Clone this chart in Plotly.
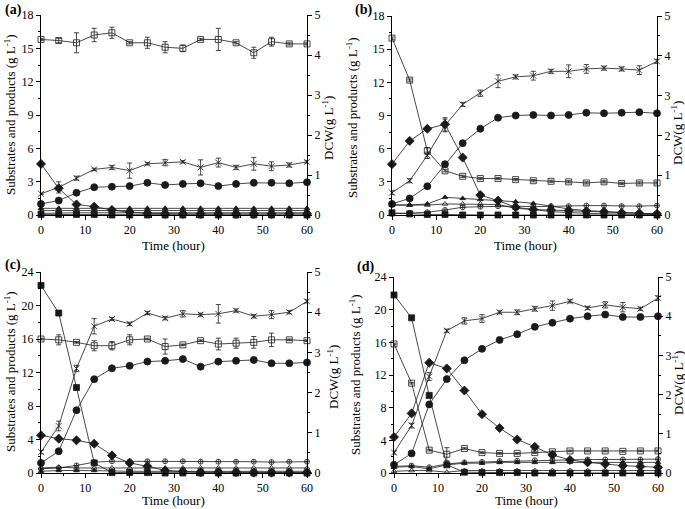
import plotly.graph_objects as go

FONT = 'Liberation Serif, Times New Roman, DejaVu Serif, serif'
W, H = 685, 509

T = [0, 4, 8, 12, 16, 20, 24, 28, 32, 36, 40, 44, 48, 52, 56, 60]

# ── (a) ───────────────────────────────────────────
A_GLC = [0.05, 0.05, 0.05, 0.05, 0.0, 0.0, 0.0, 0.0, 0.0, 0.0, 0.0, 0.0, 0.0, 0.0, 0.0, 0.0]
A_XYL = [15.8, 15.7, 15.5, 16.2, 16.4, 15.5, 15.5, 15.1, 15.0, 15.8, 15.8, 15.5, 14.6, 15.6, 15.4, 15.4]
A_XYL_ERR = [0.1, 0.2, 0.9, 0.6, 0.5, 0.1, 0.5, 0.5, 0.3, 0.1, 1.0, 0.1, 0.5, 0.4, 0.1, 0.1]
A_DIA = [4.6, 2.4, 0.95, 0.75, 0.45, 0.25, 0.15, 0.1, 0.1, 0.1, 0.1, 0.1, 0.1, 0.1, 0.1, 0.1]
A_CIR = [1.0, 1.3, 2.0, 2.5, 2.55, 2.6, 2.9, 2.7, 2.8, 2.85, 2.6, 2.8, 2.9, 2.9, 2.85, 2.95]
A_DCW = [0.53, 0.69, 0.92, 1.14, 1.19, 1.11, 1.28, 1.31, 1.33, 1.19, 1.31, 1.19, 1.28, 1.22, 1.25, 1.33]
A_DCW_ERR = [0.02, 0.14, 0.05, 0.03, 0.05, 0.19, 0.03, 0.08, 0.03, 0.19, 0.11, 0.05, 0.16, 0.11, 0.05, 0.03]
A_TRI_F = [0.6, 0.6, 0.6, 0.6, 0.6, 0.6, 0.6, 0.6, 0.6, 0.6, 0.6, 0.6, 0.6, 0.6, 0.6, 0.6]
A_TRI_O = [0.4, 0.4, 0.4, 0.4, 0.4, 0.4, 0.4, 0.4, 0.4, 0.4, 0.4, 0.4, 0.4, 0.4, 0.4, 0.4]
A_CPLUS = [0.15, 0.2, 0.2, 0.2, 0.2, 0.2, 0.2, 0.2, 0.2, 0.2, 0.2, 0.2, 0.2, 0.2, 0.2, 0.2]

# ── (b) ───────────────────────────────────────────
B_GLC = [0.2, 0.1, 0.05, 0.05, 0.0, 0.0, 0.0, 0.0, 0.0, 0.0, 0.0, 0.0, 0.0, 0.0, 0.0, 0.0]
B_XYL = [16.0, 12.2, 5.8, 4.0, 3.5, 3.3, 3.3, 3.2, 3.1, 3.05, 3.0, 2.9, 3.0, 2.85, 2.9, 2.9]
B_XYL_ERR = [0.1, 0.1, 0.3, 0.1, 0.1, 0.1, 0.1, 0.1, 0.1, 0.1, 0.1, 0.1, 0.1, 0.1, 0.1, 0.1]
B_DIA = [4.6, 6.7, 7.8, 8.2, 5.2, 1.8, 1.3, 0.7, 0.5, 0.45, 0.4, 0.35, 0.3, 0.2, 0.15, 0.1]
B_DIA_ERR = [0.1, 0.1, 0.1, 0.6, 0.1, 0.1, 0.1, 0.1, 0.1, 0.1, 0.1, 0.1, 0.1, 0.1, 0.1, 0.1]
B_CIR = [1.0, 1.5, 2.6, 4.6, 6.5, 7.8, 8.8, 9.0, 9.05, 9.0, 9.05, 9.25, 9.2, 9.25, 9.3, 9.2]
B_DCW = [0.56, 0.86, 1.5, 2.25, 2.78, 3.06, 3.36, 3.47, 3.5, 3.61, 3.61, 3.67, 3.69, 3.67, 3.64, 3.86]
B_DCW_ERR = [0.05, 0.05, 0.08, 0.16, 0.05, 0.08, 0.16, 0.05, 0.11, 0.05, 0.16, 0.11, 0.05, 0.05, 0.11, 0.05]
B_TRI_F = [0.9, 0.9, 1.0, 1.6, 1.5, 1.4, 1.35, 1.2, 1.05, 0.8, 0.55, 0.4, 0.3, 0.2, 0.15, 0.1]
B_TRI_O = [0.9, 0.9, 0.9, 1.0, 1.0, 1.0, 0.95, 0.6, 0.5, 0.3, 0.2, 0.15, 0.1, 0.1, 0.05, 0.05]
B_CPLUS = [0.1, 0.2, 0.25, 0.45, 0.7, 0.75, 0.8, 0.8, 0.75, 0.8, 0.8, 0.85, 0.85, 0.8, 0.8, 0.85]

# ── (c) ───────────────────────────────────────────
C_GLC = [22.4, 19.1, 10.2, 1.2, 0.05, 0.05, 0.05, 0.0, 0.0, 0.0, 0.0, 0.0, 0.0, 0.0, 0.0, 0.0]
C_XYL = [16.0, 15.9, 15.6, 15.2, 15.2, 15.9, 16.0, 15.1, 15.3, 15.8, 15.4, 15.5, 15.6, 15.9, 15.9, 15.8]
C_XYL_ERR = [0.1, 0.6, 0.1, 0.6, 0.5, 0.6, 0.1, 0.9, 0.1, 0.1, 0.7, 0.6, 0.7, 0.8, 0.1, 0.1]
C_DIA = [4.5, 4.1, 3.9, 3.5, 2.1, 1.2, 0.8, 0.3, 0.2, 0.1, 0.1, 0.1, 0.05, 0.05, 0.05, 0.05]
C_CIR = [1.2, 2.6, 7.5, 11.2, 12.5, 12.8, 13.3, 13.4, 13.6, 12.7, 13.3, 13.4, 13.5, 13.1, 13.1, 13.2]
C_DCW = [0.52, 1.17, 2.6, 3.65, 3.83, 3.71, 3.98, 3.85, 3.96, 3.94, 3.96, 4.04, 3.9, 3.94, 4.0, 4.27]
C_DCW_ERR = [0.04, 0.12, 0.08, 0.19, 0.04, 0.04, 0.04, 0.04, 0.08, 0.04, 0.23, 0.04, 0.04, 0.1, 0.04, 0.04]
C_TRI_F = [0.2, 0.3, 0.3, 0.3, 0.25, 0.2, 0.2, 0.2, 0.2, 0.2, 0.2, 0.2, 0.2, 0.2, 0.2, 0.2]
C_TRI_O = [0.6, 0.7, 0.6, 0.6, 0.6, 0.6, 0.6, 0.6, 0.6, 0.6, 0.6, 0.6, 0.6, 0.6, 0.6, 0.6]
C_CPLUS = [0.5, 0.6, 0.9, 1.3, 1.4, 1.4, 1.4, 1.4, 1.4, 1.35, 1.35, 1.35, 1.35, 1.3, 1.35, 1.35]

# ── (d) ───────────────────────────────────────────
D_GLC = [21.8, 19.0, 9.5, 1.0, 0.1, 0.05, 0.05, 0.05, 0.0, 0.0, 0.0, 0.0, 0.0, 0.0, 0.0, 0.0]
D_XYL = [15.8, 11.0, 2.8, 2.3, 3.0, 2.5, 2.4, 2.4, 2.5, 2.6, 2.7, 2.7, 2.7, 2.65, 2.7, 2.7]
D_XYL_ERR = [0.1, 0.1, 0.1, 0.8, 0.1, 0.1, 0.1, 0.1, 0.1, 0.1, 0.1, 0.1, 0.1, 0.1, 0.1, 0.1]
D_DIA = [4.4, 7.3, 13.5, 12.8, 10.1, 7.2, 5.5, 4.1, 3.2, 2.2, 1.6, 1.3, 1.1, 0.9, 0.8, 0.7]
D_CIR = [1.0, 2.4, 8.4, 11.5, 13.8, 15.2, 16.3, 17.0, 17.9, 18.4, 18.9, 19.2, 19.4, 19.1, 19.1, 19.2]
D_DCW = [0.52, 1.21, 2.46, 3.63, 3.88, 3.94, 4.1, 4.1, 4.19, 4.27, 4.38, 4.21, 4.29, 4.23, 4.19, 4.46]
D_DCW_ERR = [0.04, 0.06, 0.1, 0.04, 0.08, 0.1, 0.04, 0.06, 0.06, 0.12, 0.04, 0.04, 0.08, 0.12, 0.04, 0.06]
D_TRI_F = [0.7, 0.8, 0.5, 1.0, 1.2, 1.2, 1.3, 1.3, 1.3, 1.3, 1.35, 1.35, 1.35, 1.3, 1.3, 1.3]
D_TRI_O = [0.2, 0.3, 0.3, 0.1, 0.3, 0.3, 0.3, 0.3, 0.3, 0.3, 0.3, 0.3, 0.3, 0.3, 0.3, 0.3]
D_CPLUS = [0.8, 0.9, 0.7, 1.1, 1.3, 1.35, 1.45, 1.5, 1.55, 1.6, 1.6, 1.65, 1.65, 1.65, 1.65, 1.7]

# pixel positions below are measured on the reference picture
PANELS = [
    dict(tag='(a)', ymax=18, dy=3,
         glc=A_GLC, xyl=A_XYL, xyl_err=A_XYL_ERR, dia=A_DIA, dia_err=None, cir=A_CIR,
         dcw=A_DCW, dcw_err=A_DCW_ERR, tri_f=A_TRI_F, tri_o=A_TRI_O, cplus=A_CPLUS,
         px=(41, 307), py=(15, 215), lab=(3, 10), ytl=(10, 115), ytr=(328, 128), xt=(174, 245)),
    dict(tag='(b)', ymax=18, dy=3,
         glc=B_GLC, xyl=B_XYL, xyl_err=B_XYL_ERR, dia=B_DIA, dia_err=B_DIA_ERR, cir=B_CIR,
         dcw=B_DCW, dcw_err=B_DCW_ERR, tri_f=B_TRI_F, tri_o=B_TRI_O, cplus=B_CPLUS,
         px=(392, 657), py=(16, 215), lab=(353, 10), ytl=(352, 118), ytr=(677, 133), xt=(525, 245)),
    dict(tag='(c)', ymax=24, dy=4,
         glc=C_GLC, xyl=C_XYL, xyl_err=C_XYL_ERR, dia=C_DIA, dia_err=None, cir=C_CIR,
         dcw=C_DCW, dcw_err=C_DCW_ERR, tri_f=C_TRI_F, tri_o=C_TRI_O, cplus=C_CPLUS,
         px=(41, 307), py=(272, 473), lab=(3, 265), ytl=(10, 372), ytr=(333, 377), xt=(174, 500)),
    dict(tag='(d)', ymax=24, dy=4,
         glc=D_GLC, xyl=D_XYL, xyl_err=D_XYL_ERR, dia=D_DIA, dia_err=None, cir=D_CIR,
         dcw=D_DCW, dcw_err=D_DCW_ERR, tri_f=D_TRI_F, tri_o=D_TRI_O, cplus=D_CPLUS,
         px=(394, 658), py=(277, 473), lab=(355, 267), ytl=(355, 375), ytr=(678, 383), xt=(526, 500)),
]

LINE = '#1a1a1a'


def fx(px):
    return px / W


def fy(py):
    return 1 - py / H


def err(arr):
    if arr is None:
        return None
    return dict(type='data', array=arr, thickness=0.8, width=2.5, color=LINE)


def series(x, y, symbol, xa, ya, e=None, size=5):
    return go.Scatter(
        x=x, y=y, mode='lines+markers', xaxis=xa, yaxis=ya, cliponaxis=False,
        line=dict(color=LINE, width=0.8),
        marker=dict(symbol=symbol, size=size, color=LINE,
                    line=dict(color=LINE, width=0.8)),
        error_y=err(e), showlegend=False,
    )


def axis_style():
    return dict(showline=True, linecolor='black', linewidth=1, mirror=False,
                showgrid=False, zeroline=False, ticks='outside', ticklen=4,
                tickwidth=1, tickcolor='black', automargin=False,
                tickfont=dict(family=FONT, size=12, color='black'))


fig = go.Figure()
annotations = []

for k, p in enumerate(PANELS):
    n = k + 1
    xa = 'x' if n == 1 else f'x{n}'
    yl = 'y' if n == 1 else f'y{2 * n - 1}'
    yr = f'y{2 * n}'

    # small products first, big curves on top
    fig.add_trace(series(T, p['tri_o'], 'triangle-up-open', xa, yl))
    fig.add_trace(series(T, p['tri_f'], 'triangle-up', xa, yl))
    fig.add_trace(series(T, p['cplus'], 'circle-cross-open', xa, yl))
    fig.add_trace(series(T, p['glc'], 'square', xa, yl, size=6))
    fig.add_trace(series(T, p['dia'], 'diamond', xa, yl, p['dia_err'], size=7))
    fig.add_trace(series(T, p['cir'], 'circle', xa, yl, size=7))
    fig.add_trace(series(T, p['xyl'], 'square-open', xa, yl, p['xyl_err'], size=6))
    fig.add_trace(series(T, p['dcw'], 'x-thin-open', xa, yr, p['dcw_err'], size=6))

    xs = axis_style()
    xs.update(domain=[fx(p['px'][0]), fx(p['px'][1])], range=[0, 60], dtick=10, anchor=yl,
              minor=dict(ticks='outside', ticklen=2, dtick=5, tickcolor='black'))
    ls = axis_style()
    ls.update(domain=[fy(p['py'][1]), fy(p['py'][0])], range=[0, p['ymax']], dtick=p['dy'],
              anchor=xa,
              minor=dict(ticks='outside', ticklen=2, dtick=p['dy'] / 2, tickcolor='black'))
    rs = axis_style()
    rs.update(range=[0, 5], dtick=1, anchor=xa, side='right', overlaying=yl,
              minor=dict(ticks='outside', ticklen=2, dtick=0.5, tickcolor='black'))

    fig.layout['xaxis' if n == 1 else f'xaxis{n}'] = xs
    fig.layout['yaxis' if n == 1 else f'yaxis{2 * n - 1}'] = ls
    fig.layout[f'yaxis{2 * n}'] = rs

    annotations += [
        dict(text=f'<b>{p["tag"]}</b>', x=fx(p['lab'][0]), y=fy(p['lab'][1]),
             xanchor='left', yanchor='middle', font=dict(family=FONT, size=14)),
        dict(text='Substrates and products (g L<sup>-1</sup>)', textangle=-90,
             x=fx(p['ytl'][0]), y=fy(p['ytl'][1]), xanchor='center', yanchor='middle',
             font=dict(family=FONT, size=13)),
        dict(text='DCW(g L<sup>-1</sup>)', textangle=-90,
             x=fx(p['ytr'][0]), y=fy(p['ytr'][1]), xanchor='center', yanchor='middle',
             font=dict(family=FONT, size=13)),
        dict(text='Time (hour)', x=fx(p['xt'][0]), y=fy(p['xt'][1]),
             xanchor='center', yanchor='middle', font=dict(family=FONT, size=13)),
    ]

for a in annotations:
    a.update(xref='paper', yref='paper', showarrow=False)
    a['font']['color'] = 'black'

fig.update_layout(
    width=W, height=H, margin=dict(l=0, r=0, t=0, b=0),
    paper_bgcolor='white', plot_bgcolor='white',
    font=dict(family=FONT, color='black'),
    annotations=annotations,
)

# drop the browser's default 8px body margin so the figure sits at the window corner
fig.write_html("out.html", config={'displayModeBar': False},
               post_script="document.body.style.margin = '0';")
